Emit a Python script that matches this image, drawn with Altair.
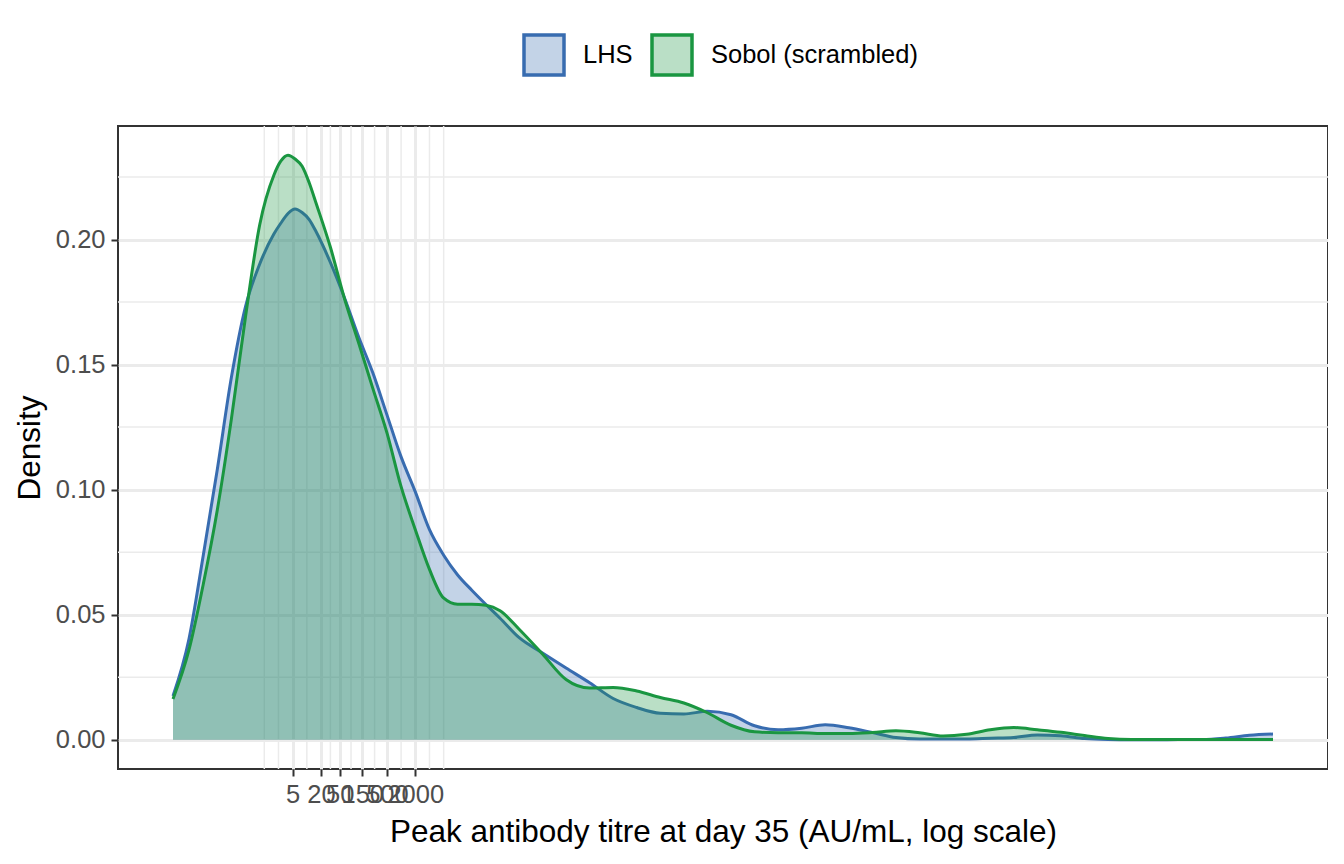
import altair as alt
import pandas as pd
import math

# ---------------- data ----------------
series_names = ["LHS", "Sobol (scrambled)"]

# log10 of peak antibody titre (x positions of the density estimate)
log_titre = [-1.84, -1.5, -1.2, -0.9, -0.6, -0.3, 0.0, 0.3, 0.45, 0.6, 0.75, 0.9,
             1.05, 1.2, 1.5, 1.8, 2.1, 2.4, 2.7, 3.0, 3.3, 3.6, 3.9, 4.2, 4.5,
             4.8, 5.1, 5.5, 6.0, 6.5, 7.0, 7.5, 8.0, 8.5, 9.0, 9.5, 10.0, 10.5,
             11.0, 11.5, 12.0, 12.5, 13.0, 13.5, 14.0, 14.5, 15.0, 15.5, 16.0,
             16.5, 17.0, 17.5, 18.0, 18.5, 19.0, 19.5, 20.0, 20.5, 21.0, 21.5]

density_lhs = [0.0175, 0.0404, 0.0735, 0.1081, 0.1450, 0.1733, 0.1902, 0.2022,
               0.2066, 0.2104, 0.2122, 0.2108, 0.2080, 0.2030, 0.1908, 0.1766,
               0.1610, 0.1467, 0.1299, 0.1131, 0.0992, 0.0841, 0.0739, 0.0659,
               0.0598, 0.0541, 0.0486, 0.0409, 0.0347, 0.0287, 0.0228, 0.0165,
               0.0129, 0.0106, 0.0103, 0.0114, 0.0100, 0.0056, 0.0040, 0.0046,
               0.0060, 0.0048, 0.0029, 0.0009, 0.0003, 0.0003, 0.0003, 0.0006,
               0.0009, 0.0019, 0.0016, 0.0005, 0.0001, 0.0000, 0.0000, 0.0001,
               0.0001, 0.0007, 0.0018, 0.0023]

density_sobol = [0.0163, 0.0360, 0.0620, 0.0919, 0.1284, 0.1693, 0.2059, 0.2257,
                 0.2314, 0.2337, 0.2322, 0.2293, 0.2227, 0.2143, 0.1969, 0.1763,
                 0.1586, 0.1405, 0.1227, 0.1012, 0.0841, 0.0682, 0.0567, 0.0542,
                 0.0542, 0.0538, 0.0516, 0.0443, 0.0343, 0.0241, 0.0207, 0.0209,
                 0.0195, 0.0169, 0.0147, 0.0108, 0.0058, 0.0032, 0.0028, 0.0028,
                 0.0025, 0.0025, 0.0029, 0.0036, 0.0028, 0.0015, 0.0022, 0.0040,
                 0.0049, 0.0040, 0.0030, 0.0017, 0.0005, 0.0001, 0.0001, 0.0001,
                 0.0001, 0.0001, 0.0001, 0.0001]

x_breaks = [5, 20, 50, 150, 500, 2000]
y_breaks = [0.0, 0.05, 0.10, 0.15, 0.20]

# ---------------- tables ----------------
df = pd.DataFrame({
    "log_titre": log_titre * 2,
    "density": density_lhs + density_sobol,
    "series": [series_names[0]] * len(log_titre) + [series_names[1]] * len(log_titre),
})

# ggplot-style minor breaks (midpoints in log space, extended one step each side)
lb = [math.log10(b) for b in x_breaks]
step = lb[1] - lb[0]
ext = [lb[0] - step] + lb + [lb[-1] + step]
minor_x = [ext[0], ext[-1]]
for a, b in zip(ext[:-1], ext[1:]):
    minor_x.append((a + b) / 2)
minor_x_df = pd.DataFrame({"titre": [10 ** v for v in minor_x]})

ystep = y_breaks[1] - y_breaks[0]
minor_y_df = pd.DataFrame({"y": [b + ystep / 2 for b in y_breaks]})

# ggplot-like 5% expansion
lo, hi = min(log_titre), max(log_titre)
span = hi - lo
x_dom = [10 ** (lo - 0.05 * span), 10 ** (hi + 0.05 * span)]
dmax = max(density_lhs + density_sobol)
y_dom = [-0.05 * dmax, dmax * 1.05]

blue = "#386cb0"
green = "#1a9641"
FONT = "Liberation Sans"

x_scale = alt.Scale(type="log", domain=x_dom, nice=False)
y_scale = alt.Scale(domain=y_dom, nice=False, zero=False)

x_axis = alt.Axis(values=x_breaks, format="d", labelOverlap=False, grid=True,
                  gridColor="#ebebeb", gridWidth=3,
                  title="Peak antibody titre at day 35 (AU/mL, log scale)",
                  titlePadding=9, labelPadding=6)
y_axis = alt.Axis(values=y_breaks, format=".2f", grid=True, gridColor="#ebebeb",
                  gridWidth=3, title="Density", titlePadding=9, labelPadding=6)

fill_scale = alt.Scale(domain=series_names,
                       range=["rgba(56,108,176,0.3)", "rgba(26,150,65,0.3)"])
stroke_scale = alt.Scale(domain=series_names, range=[blue, green])

legend = alt.Legend(orient="none", legendX=404, legendY=-93, direction="horizontal",
                    title=None, symbolType="square", symbolSize=1600,
                    symbolStrokeWidth=3.5, labelFontSize=25.5, labelColor="#000000",
                    labelFont=FONT, labelOffset=17, columnPadding=12, padding=0,
                    labelLimit=500)


def xenc(field="titre:Q"):
    return alt.X(field, scale=x_scale, axis=x_axis)


def yenc(field="density:Q"):
    return alt.Y(field, scale=y_scale, axis=y_axis, stack=None)


base = alt.Chart(df).transform_calculate(titre="pow(10, datum.log_titre)")

layers = [
    alt.Chart(minor_x_df).mark_rule(color="#ebebeb", strokeWidth=1.5).encode(x=xenc()),
    alt.Chart(minor_y_df).mark_rule(color="#ebebeb", strokeWidth=1.5).encode(y=yenc("y:Q")),
]
for name in series_names:
    sub = base.transform_filter(alt.datum.series == name)
    layers.append(
        sub.mark_area(interpolate="monotone").encode(
            x=xenc(), y=yenc(), y2=alt.datum(0),
            fill=alt.Fill("series:N", scale=fill_scale, legend=legend),
        )
    )
    layers.append(
        sub.mark_line(strokeWidth=3, interpolate="monotone").encode(
            x=xenc(), y=yenc(),
            stroke=alt.Stroke("series:N", scale=stroke_scale, legend=legend),
        )
    )

chart = alt.layer(*layers).properties(
    width=1210, height=643,
    autosize=alt.AutoSizeParams(type="none"),
    padding={"left": 110, "top": 118, "right": 0, "bottom": 88},
).configure_view(
    stroke="#333333", strokeWidth=2
).configure_axis(
    domain=False, tickColor="#333333", tickWidth=2, tickSize=7,
    labelFont=FONT, labelFontSize=25.5, labelColor="#4d4d4d",
    titleFont=FONT, titleFontSize=31.5, titleColor="#000000", titleFontWeight="normal",
)

chart.save("out.html", embed_options={"renderer": "svg", "actions": False})
